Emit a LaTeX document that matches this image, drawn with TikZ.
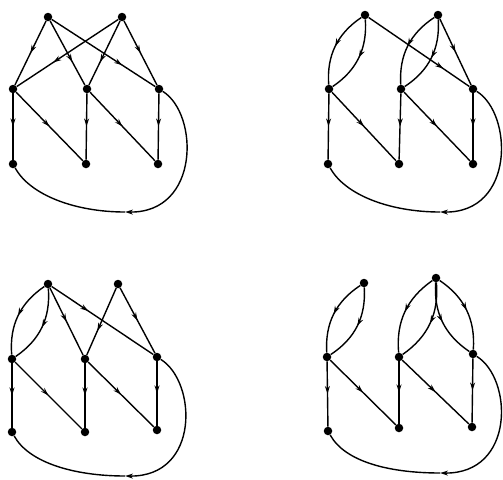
\documentclass[tikz,border=0pt]{standalone}
\usetikzlibrary{arrows.meta,decorations.markings}
\begin{document}
\begin{tikzpicture}[x=1pt,y=-1pt,
  dot/.style={circle,fill=black,inner sep=0pt,minimum size=8.5pt},
  edge/.style={line width=1.4pt},
  marr/.style={edge,postaction={decorate},decoration={markings,mark=at position #1 with {\arrow{Stealth[length=8pt,width=5pt]}}}},
  marr/.default=0.5,
  endarr/.style={edge,-{Stealth[length=8pt,width=5pt]}},
  lensl/.style={marr,bend left=30},
  lensr/.style={marr,bend right=30},
  loopout/.style={endarr},
  loopin/.style={edge}]
\useasboundingbox (0,0) rectangle (503,479);
% ---------- panel 1 ----------
\node[dot] (a1) at (48,17) {};
\node[dot] (a2) at (122,17) {};
\node[dot] (a3) at (13,89) {};
\node[dot] (a4) at (87,89) {};
\node[dot] (a5) at (159,89) {};
\node[dot] (a6) at (13,164) {};
\node[dot] (a7) at (86,164) {};
\node[dot] (a8) at (158,164) {};
\coordinate (ac) at (125,212);
\draw[marr] (a1) -- (a3);
\draw[marr=0.64] (a1) -- (a4);
\draw[marr=0.68] (a1) -- (a5);
\draw[marr=0.64] (a2) -- (a3);
\draw[marr=0.64] (a2) -- (a4);
\draw[marr] (a2) -- (a5);
\draw[marr] (a3) -- (a6);
\draw[marr] (a3) -- (a7);
\draw[marr] (a4) -- (a7);
\draw[marr] (a4) -- (a8);
\draw[marr] (a5) -- (a8);
\draw[loopout] (a5) .. controls +(40,25) and +(75,1) .. (ac);
\draw[loopin] (ac) .. controls +(-50,0) and +(17,31) .. (a6);
% ---------- panel 2 ----------
\node[dot] (b1) at (365,15) {};
\node[dot] (b2) at (438,15) {};
\node[dot] (b3) at (329,89) {};
\node[dot] (b4) at (401,89) {};
\node[dot] (b5) at (473,89) {};
\node[dot] (b6) at (328,164) {};
\node[dot] (b7) at (399,164) {};
\node[dot] (b8) at (473,164) {};
\coordinate (bc) at (440,212);
\draw[lensl] (b1) to (b3);
\draw[lensr] (b1) to (b3);
\draw[marr=0.74] (b1) -- (b5);
\draw[lensl] (b2) to (b4);
\draw[lensr] (b2) to (b4);
\draw[marr] (b2) -- (b5);
\draw[marr] (b3) -- (b6);
\draw[marr] (b3) -- (b7);
\draw[marr] (b4) -- (b7);
\draw[marr] (b4) -- (b8);
\draw[marr] (b5) -- (b8);
\draw[loopout] (b5) .. controls +(40,25) and +(75,1) .. (bc);
\draw[loopin] (bc) .. controls +(-50,0) and +(17,31) .. (b6);
% ---------- panel 3 ----------
\node[dot] (c1) at (48,284) {};
\node[dot] (c2) at (118,284) {};
\node[dot] (c3) at (12,359) {};
\node[dot] (c4) at (85,359) {};
\node[dot] (c5) at (157,357) {};
\node[dot] (c6) at (12,432) {};
\node[dot] (c7) at (85,432) {};
\node[dot] (c8) at (157,430) {};
\coordinate (cc) at (125,476);
\draw[lensl] (c1) to (c3);
\draw[lensr] (c1) to (c3);
\draw[marr] (c1) -- (c4);
\draw[marr=0.36] (c1) -- (c5);
\draw[marr=0.64] (c2) -- (c4);
\draw[marr] (c2) -- (c5);
\draw[marr] (c3) -- (c6);
\draw[marr] (c3) -- (c7);
\draw[marr] (c4) -- (c7);
\draw[marr] (c4) -- (c8);
\draw[marr] (c5) -- (c8);
\draw[loopout] (c5) .. controls +(40,25) and +(75,1) .. (cc);
\draw[loopin] (cc) .. controls +(-50,0) and +(17,31) .. (c6);
% ---------- panel 4 ----------
\node[dot] (d1) at (364,283) {};
\node[dot] (d2) at (436,278) {};
\node[dot] (d3) at (327,357) {};
\node[dot] (d4) at (399,357) {};
\node[dot] (d5) at (473,354) {};
\node[dot] (d6) at (328,431) {};
\node[dot] (d7) at (399,428) {};
\node[dot] (d8) at (472,427) {};
\coordinate (dc) at (440,473);
\draw[lensl] (d1) to (d3);
\draw[lensr] (d1) to (d3);
\draw[lensl] (d2) to (d4);
\draw[lensr] (d2) to (d4);
\draw[lensl] (d2) to (d5);
\draw[lensr] (d2) to (d5);
\draw[marr] (d3) -- (d6);
\draw[marr] (d3) -- (d7);
\draw[marr] (d4) -- (d7);
\draw[marr] (d4) -- (d8);
\draw[marr] (d5) -- (d8);
\draw[loopout] (d5) .. controls +(40,25) and +(75,1) .. (dc);
\draw[loopin] (dc) .. controls +(-50,0) and +(17,31) .. (d6);
\end{tikzpicture}
\end{document}
